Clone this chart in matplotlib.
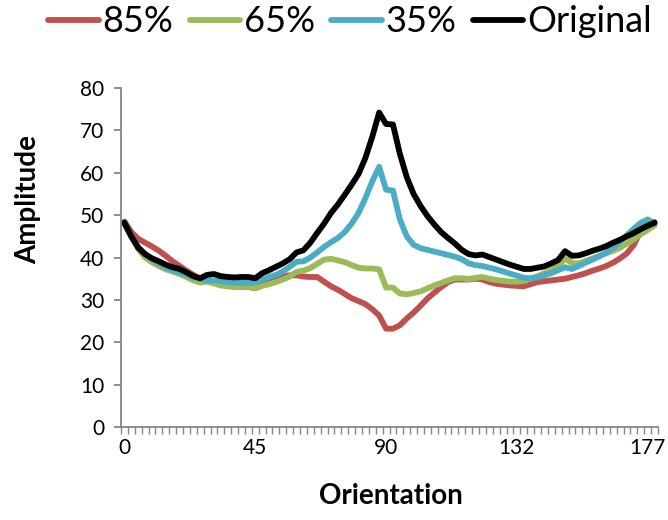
import numpy as np
from matplotlib import pyplot as plt

# amplitude per orientation step (78 categories)
red_85 = [48.5, 46, 44.4, 43.5, 42.6, 41.6, 40.4, 39.1, 38, 36.9,
          35.9, 35, 34.5, 34.2, 34, 33.8, 33.6, 33.5, 33.4, 33.6,
          34, 34.6, 35.2, 35.6, 35.8, 35.8, 35.5, 35.4, 35.4, 34.3,
          33.2, 32.4, 31.4, 30.4, 29.7, 29, 27.8, 26.3, 23.2, 23.2,
          24, 25.6, 27, 28.6, 30.3, 31.7, 33, 34.2, 34.8, 34.8,
          34.8, 35, 34.8, 34.2, 33.8, 33.6, 33.4, 33.3, 33.2, 33.7,
          34.2, 34.4, 34.6, 34.8, 35, 35.4, 35.8, 36.3, 36.9, 37.4,
          38, 38.8, 39.8, 41, 43, 46.3, 47.9, 48.4]
green_65 = [48, 45, 42, 40, 38.9, 38, 37.2, 36.7, 36.1, 35.4,
            34.6, 34.1, 34.3, 33.9, 33.4, 33.2, 33, 33, 33, 32.7,
            33.3, 33.7, 34.2, 34.8, 35.5, 36.6, 36.9, 37.5, 38.5, 39.5,
            39.7, 39.3, 38.9, 38.2, 37.6, 37.4, 37.4, 37.2, 32.9, 32.9,
            31.5, 31.3, 31.6, 32, 32.7, 33.4, 34, 34.6, 35.1, 35.1,
            34.9, 35.2, 35.4, 35, 34.7, 34.5, 34.3, 34.3, 34.5, 35,
            35.6, 36.3, 37, 38, 39.8, 38.7, 38.6, 39.2, 39.8, 40.4,
            41, 41.6, 42.3, 43.3, 44.3, 45.5, 46.5, 47.6]
blue_35 = [48, 44.8, 42.5, 40.8, 39.6, 38.6, 37.7, 37, 36.5, 35.9,
           35.4, 34.9, 34.6, 34.6, 34.4, 34.2, 34.1, 34, 34, 34.1,
           34.8, 35.4, 35.9, 36.7, 37.8, 39, 39.1, 40, 41.2, 42.5,
           43.6, 44.6, 46, 48, 50.5, 54, 58, 61.4, 56, 55.8,
           49, 45, 43, 42.2, 41.8, 41.4, 41, 40.6, 40.2, 39.6,
           38.6, 38.2, 38, 37.6, 37.2, 36.7, 36.2, 35.7, 35.2, 35.1,
           35.3, 35.8, 36.3, 37, 37.7, 37.3, 38, 38.8, 39.5, 40.3,
           41.2, 42.3, 43.8, 45.3, 46.8, 48.2, 49, 48]
original = [48.2, 45, 42.3, 40.8, 39.8, 39.1, 38.3, 37.7, 37.3, 36.5,
            35.6, 35.1, 35.9, 36.1, 35.6, 35.4, 35.3, 35.4, 35.4, 35.1,
            36.3, 37, 37.8, 38.6, 39.6, 41.2, 41.7, 43.5, 45.8, 48,
            50.5, 52.5, 54.8, 57.2, 59.7, 63.5, 68.5, 74.2, 71.5, 71.4,
            64.5, 59, 55, 52.2, 49.8, 47.8, 46, 44.6, 43.3, 41.8,
            40.8, 40.5, 40.7, 40.1, 39.5, 38.9, 38.3, 37.8, 37.3, 37.3,
            37.6, 37.9, 38.6, 39.4, 41.5, 40.4, 40.5, 41, 41.6, 42.1,
            42.7, 43.5, 44.2, 45, 45.8, 46.7, 47.5, 48.2]

tick_idx = [0, 19, 38, 57, 76]
tick_labels = ["0", "45", "90", "132", "177"]

series = [("85%", red_85, "#C0504D"),
          ("65%", green_65, "#9BBB59"),
          ("35%", blue_35, "#4BACC6"),
          ("Original", original, "#000000")]

plt.rcParams['font.family'] = ['Lato', 'DejaVu Sans']

fig = plt.figure(figsize=(6.68, 5.2), dpi=100)
ax = fig.add_axes([121 / 668, 93 / 520, 537 / 668, 339 / 520])

x = np.arange(len(original))
for name, vals, col in series:
    ax.plot(x, vals, color=col, lw=4.2, label=name, solid_joinstyle="round", solid_capstyle="round")

ax.set_xlim(-0.5, len(original) - 0.5)
ax.set_ylim(0, 80)
ax.set_yticks(np.arange(0, 81, 10))
ax.set_xticks(tick_idx)
ax.set_xticklabels(tick_labels)
ax.set_xticks(np.arange(len(original) + 1) - 0.5, minor=True)

gray = "#868686"
for s in ["top", "right"]:
    ax.spines[s].set_visible(False)
for s in ["left", "bottom"]:
    ax.spines[s].set_color(gray)
    ax.spines[s].set_linewidth(1.3)

ax.tick_params(axis="x", which="major", length=0, pad=8, labelsize=15)
ax.tick_params(axis="x", which="minor", length=5, width=1, color=gray, direction="out")
ax.tick_params(axis="y", length=5, width=1.3, color=gray, pad=7, labelsize=15)

fig.text(28 / 668, 1 - 200 / 520, "Amplitude", rotation=90, ha="center", va="center",
         fontsize=20, fontweight="bold")
fig.text(391 / 668, 1 - 496 / 520, "Orientation", ha="center", va="center",
         fontsize=20, fontweight="bold")

fig.legend(loc="center", bbox_to_anchor=(350 / 668, 1 - 22 / 520), ncol=4, frameon=False,
           fontsize=26, handlelength=1.4, handletextpad=0.1, columnspacing=0.45,
           borderpad=0, borderaxespad=0)

fig.savefig("out.png", dpi=100)
